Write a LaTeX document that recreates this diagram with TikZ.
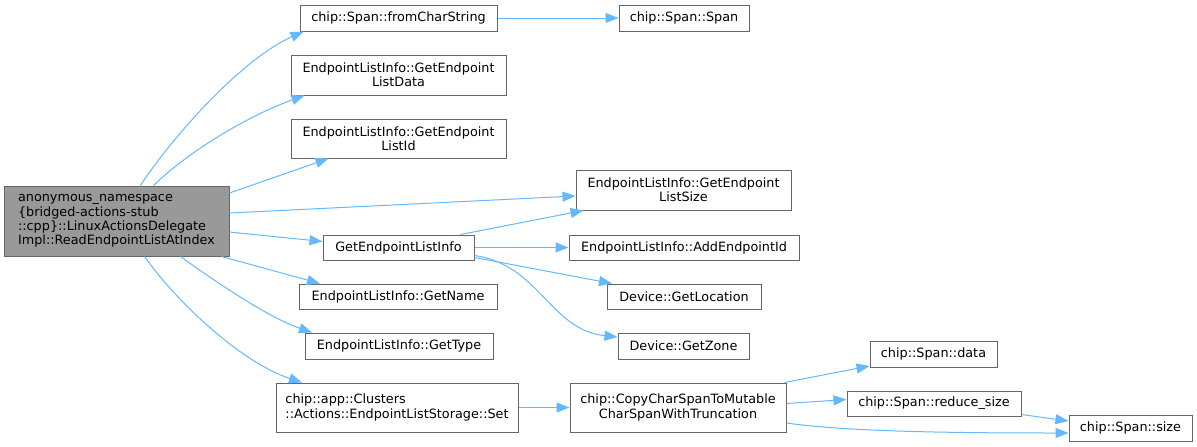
\documentclass[tikz,border=0pt]{standalone}
\usepackage{fontspec}
\setmainfont{DejaVu Sans}
\usetikzlibrary{arrows.meta}
\definecolor{edgeblue}{HTML}{63B8FF}
\definecolor{boxgray}{HTML}{666666}
\definecolor{mainfill}{HTML}{999999}
\begin{document}
\begin{tikzpicture}[x=1pt,y=-1pt,
 box/.style={draw=boxgray, line width=1pt, fill=white, inner sep=0pt, align=center, font=\fontsize{12.8}{14.3}\selectfont},
 edge/.style={draw=edgeblue, line width=1pt, -{Triangle[length=13pt,width=10pt]}}]
\useasboundingbox (0,0) rectangle (1197,447);
\node[box, fill=mainfill, align=left, minimum width=225, minimum height=70] (main) at (116.5,221) {anonymous\_namespace\\\{bridged-actions-stub\\::cpp\}::LinuxActionsDelegate\\Impl::ReadEndpointListAtIndex};
\node[box, minimum width=197, minimum height=26] (fcs) at (398.5,18) {chip::Span::fromCharString};
\node[box, minimum width=130, minimum height=26] (span) at (684,18) {chip::Span::Span};
\node[box, minimum width=215, minimum height=40] (ldata) at (398.5,75) {EndpointListInfo::GetEndpoint\\ListData};
\node[box, minimum width=215, minimum height=39] (lid) at (398.5,138.5) {EndpointListInfo::GetEndpoint\\ListId};
\node[box, minimum width=215, minimum height=40] (lsize) at (683.5,190) {EndpointListInfo::GetEndpoint\\ListSize};
\node[box, minimum width=151, minimum height=25] (info) at (398.5,247.5) {GetEndpointListInfo};
\node[box, minimum width=230, minimum height=25] (add) at (684,247.5) {EndpointListInfo::AddEndpointId};
\node[box, minimum width=198, minimum height=25] (name) at (398,296.5) {EndpointListInfo::GetName};
\node[box, minimum width=154, minimum height=25] (loc) at (684,296.5) {Device::GetLocation};
\node[box, minimum width=188, minimum height=26] (type) at (399,346) {EndpointListInfo::GetType};
\node[box, minimum width=131, minimum height=26] (zone) at (683.5,346) {Device::GetZone};
\node[box, align=left, minimum width=242, minimum height=49] (set) at (397,407.5) {chip::app::Clusters\\::Actions::EndpointListStorage::Set};
\node[box, minimum width=216, minimum height=49] (copy) at (678,407.5) {chip::CopyCharSpanToMutable\\CharSpanWithTruncation};
\node[box, minimum width=127, minimum height=26] (sdata) at (933.5,354) {chip::Span::data};
\node[box, minimum width=174, minimum height=25] (reduce) at (934,403.5) {chip::Span::reduce\_size};
\node[box, minimum width=123, minimum height=26] (size) at (1130.5,428) {chip::Span::size};
% edges from main
\draw[edge] ([xshift=24pt]main.north) .. controls (170,140) and (240,60) .. ([xshift=-95pt]fcs.south);
\draw[edge] ([xshift=37pt]main.north) .. controls (190,150) and (250,115) .. ([xshift=-94pt]ldata.south);
\draw[edge] ([yshift=28pt]main.east) -- ([xshift=-70pt]lid.south);
\draw[edge] ([yshift=8pt]main.east) -- ([yshift=-6pt]lsize.west);
\draw[edge] ([yshift=-11pt]main.east) -- ([yshift=6pt]info.west);
\draw[edge] ([xshift=105pt]main.south) -- ([xshift=-78pt]name.north);
\draw[edge] ([xshift=64pt]main.south) .. controls (220,285) and (270,318) .. ([xshift=-87pt]type.north);
\draw[edge] ([xshift=28pt]main.south) .. controls (175,300) and (240,362) .. ([xshift=-95pt]set.north);
% other edges
\draw[edge] (fcs.east) -- (span.west);
\draw[edge] ([xshift=62pt]info.north) -- ([xshift=-100pt]lsize.south);
\draw[edge] (info.east) -- (add.west);
\draw[edge] ([yshift=-10pt]info.east) -- ([xshift=-72pt]loc.north);
\draw[edge] ([yshift=-8pt]info.east) .. controls (540,265) and (550,330) .. ([yshift=9pt]zone.west);
\draw[edge] (set.east) -- (copy.west);
\draw[edge] ([xshift=-2pt]copy.north east) -- ([yshift=-12pt]sdata.west);
\draw[edge] ([yshift=4pt]copy.east) -- ([yshift=4pt]reduce.west);
\draw[edge] ([yshift=-15.5pt]copy.east) .. controls (850,432) and (960,433) .. ([yshift=-5pt]size.west);
\draw[edge] ([yshift=2pt]reduce.south east) -- ([yshift=7pt]size.west);
\end{tikzpicture}
\end{document}
